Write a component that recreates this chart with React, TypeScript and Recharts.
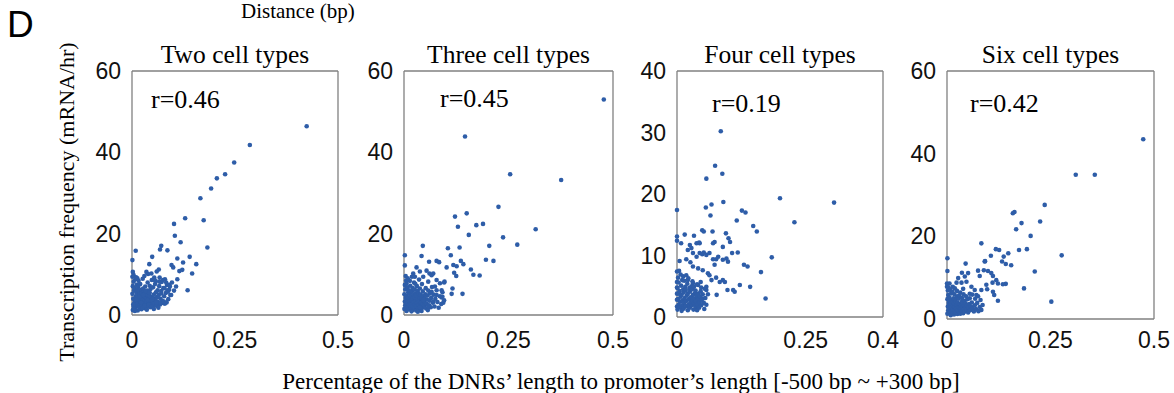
import React from "react"
import { ScatterChart, Scatter, XAxis, YAxis } from "recharts"

const SERIF = "'Liberation Serif', 'Times New Roman', serif"
const SANS = "'Liberation Sans', Arial, sans-serif"
const POINT = "#2e5da8"
const FRAME = "#808080"

// x = share of DNR length in the promoter, y = transcription frequency (mRNA/hr)
const twoCell: [number, number][] = [
  [0.424, 46.4], [0.286, 41.8], [0.248, 37.5], [0.226, 34.6], [0.206, 33.6], [0.192, 31.1],
  [0.166, 28.7], [0.129, 23.8], [0.174, 23.3], [0.102, 22.4], [0.104, 19.5], [0.118, 17.9],
  [0.183, 16.6], [0.071, 17.0], [0.068, 16.1], [0.086, 15.9], [0.009, 15.8], [0.001, 13.5],
  [0.049, 14.3], [0.110, 13.9], [0.124, 12.9], [0.140, 14.3], [0.156, 12.5], [0.096, 12.3],
  [0.100, 11.7], [0.115, 10.8], [0.122, 11.1], [0.146, 10.2], [0.042, 12.5], [0.065, 11.2],
  [0.060, 10.7], [0.002, 10.6], [0.001, 9.4], [0.035, 10.6], [0.039, 10.1], [0.110, 8.8],
  [0.107, 7.0], [0.135, 6.1], [0.077, 2.9], [0.051, 2.0], [0.013, 9.0],
  [0.002, 1.2], [0.004, 2.0], [0.006, 3.1], [0.003, 4.0], [0.001, 5.2], [0.005, 6.0],
  [0.002, 7.1], [0.004, 8.2], [0.008, 1.6], [0.010, 2.5], [0.007, 3.6], [0.009, 4.6],
  [0.011, 5.5], [0.006, 6.6], [0.012, 7.4], [0.008, 8.8], [0.014, 1.1], [0.015, 2.2],
  [0.013, 3.0], [0.016, 3.9], [0.014, 4.8], [0.017, 5.8], [0.015, 6.9], [0.018, 2.7],
  [0.019, 1.8], [0.020, 3.4], [0.021, 4.3], [0.019, 5.1], [0.022, 6.2], [0.020, 7.6],
  [0.023, 1.4], [0.024, 2.4], [0.025, 3.2], [0.026, 4.0], [0.024, 5.4], [0.027, 6.5],
  [0.028, 2.0], [0.029, 2.9], [0.030, 3.7], [0.031, 4.6], [0.029, 5.7], [0.032, 7.0],
  [0.033, 1.6], [0.034, 2.6], [0.035, 3.4], [0.036, 4.2], [0.034, 5.1], [0.037, 6.0],
  [0.038, 8.0], [0.039, 2.2], [0.040, 3.0], [0.041, 3.9], [0.042, 4.8], [0.040, 5.8],
  [0.043, 7.2], [0.044, 1.9], [0.045, 2.7], [0.046, 3.5], [0.047, 4.4], [0.045, 6.4],
  [0.048, 8.6], [0.050, 2.4], [0.051, 3.3], [0.052, 4.1], [0.053, 5.0], [0.051, 6.8],
  [0.054, 9.2], [0.055, 2.9], [0.057, 3.8], [0.058, 5.6], [0.056, 7.6], [0.060, 2.3],
  [0.061, 4.4], [0.062, 6.1], [0.063, 3.2], [0.065, 5.0], [0.066, 7.1], [0.068, 2.6],
  [0.069, 4.0], [0.071, 5.9], [0.072, 8.1], [0.074, 3.5], [0.076, 6.6], [0.078, 4.6],
  [0.080, 2.8], [0.082, 5.4], [0.085, 7.4], [0.088, 3.9], [0.090, 6.2], [0.093, 4.9],
  [0.097, 8.0], [0.004, 9.8], [0.010, 9.3], [0.016, 8.4], [0.026, 8.9], [0.030, 9.6],
  [0.003, 2.6], [0.007, 1.0], [0.011, 3.8], [0.013, 6.2], [0.018, 4.5], [0.022, 3.0],
  [0.025, 1.7], [0.027, 4.9], [0.031, 2.3], [0.033, 5.9], [0.036, 1.3], [0.038, 3.7],
  [0.041, 2.5], [0.043, 5.5], [0.047, 2.0], [0.049, 3.9], [0.053, 1.5], [0.059, 3.0],
  [0.064, 1.8], [0.070, 3.0], [0.058, 8.3], [0.067, 9.2], [0.080, 8.8], [0.086, 6.0],
  [0.092, 7.0], [0.102, 6.0], [0.047, 10.2], [0.055, 8.6], [0.067, 8.2], [0.075, 8.6],
  [0.083, 8.0], [0.091, 7.4], [0.079, 6.6], [0.087, 5.7], [0.071, 5.3], [0.063, 4.5],
  [0.095, 4.9], [0.077, 3.3], [0.084, 3.1],
]

const threeCell: [number, number][] = [
  [0.478, 53.0], [0.146, 43.9], [0.254, 34.6], [0.376, 33.2], [0.226, 26.6], [0.150, 25.0],
  [0.122, 24.2], [0.129, 21.7], [0.173, 22.1], [0.189, 22.4], [0.315, 21.1], [0.155, 19.7],
  [0.237, 19.1], [0.204, 17.0], [0.271, 17.3], [0.045, 17.0], [0.105, 16.4], [0.133, 16.6],
  [0.002, 14.7], [0.112, 14.7], [0.042, 14.5], [0.196, 13.6], [0.214, 13.3], [0.078, 13.3],
  [0.084, 13.0], [0.060, 13.1], [0.136, 13.3], [0.142, 12.5], [0.160, 11.2], [0.166, 9.9],
  [0.181, 9.7], [0.120, 10.4], [0.125, 9.6], [0.002, 12.2], [0.030, 11.7], [0.102, 11.7],
  [0.118, 12.3], [0.126, 12.0], [0.140, 5.2], [0.096, 8.0], [0.116, 6.5], [0.114, 5.2],
  [0.090, 4.3], [0.094, 3.0], [0.097, 8.2], [0.061, 10.2],
  [0.001, 1.5], [0.003, 2.4], [0.002, 3.3], [0.004, 4.2], [0.001, 5.1], [0.003, 6.3],
  [0.002, 7.4], [0.005, 8.5], [0.006, 1.0], [0.008, 1.9], [0.007, 2.9], [0.009, 3.8],
  [0.006, 4.7], [0.010, 5.6], [0.008, 6.8], [0.011, 1.4], [0.012, 2.5], [0.013, 3.4],
  [0.011, 4.3], [0.014, 5.2], [0.012, 6.1], [0.015, 7.2], [0.016, 1.8], [0.017, 2.8],
  [0.018, 3.7], [0.016, 4.6], [0.019, 5.7], [0.020, 1.2], [0.021, 2.2], [0.022, 3.1],
  [0.020, 4.0], [0.023, 4.9], [0.021, 6.6], [0.024, 8.0], [0.025, 1.7], [0.026, 2.6],
  [0.027, 3.5], [0.025, 4.4], [0.028, 5.3], [0.026, 6.2], [0.029, 1.1], [0.030, 2.1],
  [0.031, 3.0], [0.032, 3.9], [0.030, 4.8], [0.033, 5.9], [0.031, 7.1], [0.034, 1.6],
  [0.035, 2.5], [0.036, 3.4], [0.037, 4.3], [0.035, 5.2], [0.038, 6.5], [0.039, 1.3],
  [0.040, 2.2], [0.041, 3.1], [0.042, 4.1], [0.040, 5.0], [0.043, 7.6], [0.044, 1.8],
  [0.045, 2.7], [0.046, 3.6], [0.047, 4.6], [0.045, 5.8], [0.048, 2.3], [0.049, 3.2],
  [0.050, 4.0], [0.051, 5.1], [0.052, 6.6], [0.053, 1.6], [0.054, 2.8], [0.055, 3.8],
  [0.056, 4.8], [0.058, 6.0], [0.060, 2.4], [0.061, 3.5], [0.062, 5.3], [0.064, 1.9],
  [0.065, 4.2], [0.067, 6.9], [0.069, 3.0], [0.071, 5.0], [0.073, 2.1], [0.075, 4.0],
  [0.078, 6.1], [0.080, 3.2], [0.083, 1.8], [0.086, 4.6], [0.089, 2.7], [0.092, 5.6],
  [0.096, 3.6], [0.004, 9.6], [0.009, 9.0], [0.014, 8.4], [0.019, 9.4], [0.027, 7.7],
  [0.036, 8.7], [0.018, 0.9], [0.033, 0.8], [0.042, 1.0], [0.057, 1.2],
  [0.054, 10.9], [0.070, 10.2], [0.066, 9.8], [0.038, 10.7], [0.046, 9.4], [0.022, 10.2],
  [0.026, 9.4], [0.006, 7.8], [0.058, 8.2], [0.078, 8.6], [0.086, 7.8], [0.074, 7.0],
  [0.090, 6.1], [0.066, 5.7], [0.078, 4.9], [0.092, 4.5], [0.046, 3.7], [0.070, 3.3],
  [0.058, 2.2], [0.038, 1.9],
]

const fourCell: [number, number][] = [
  [0.085, 30.2], [0.074, 24.6], [0.088, 23.3], [0.057, 22.5], [0.200, 19.3], [0.305, 18.6],
  [0.090, 18.7], [0.067, 18.3], [0.056, 17.8], [0.065, 16.5], [0.126, 17.3], [0.133, 17.0],
  [0.116, 15.7], [0.228, 15.4], [0.000, 17.4], [0.148, 14.8], [0.155, 13.9], [0.049, 14.1],
  [0.052, 13.9], [0.069, 13.9], [0.095, 13.6], [0.100, 12.8], [0.103, 12.2], [0.015, 13.4],
  [0.000, 13.1], [0.000, 12.4], [0.184, 9.7], [0.163, 7.3], [0.172, 3.0], [0.142, 4.9],
  [0.122, 5.2], [0.130, 8.5], [0.137, 8.2], [0.107, 10.4], [0.118, 10.5], [0.098, 4.4],
  [0.109, 4.4], [0.112, 4.1], [0.077, 3.6], [0.033, 13.2],
  [0.008, 12.0], [0.021, 10.9], [0.028, 11.2], [0.038, 12.0], [0.044, 12.0], [0.070, 12.0],
  [0.073, 12.2], [0.089, 11.4], [0.025, 11.7], [0.043, 12.1],
  [0.005, 9.1], [0.018, 9.4], [0.026, 8.9], [0.031, 10.4], [0.038, 9.8], [0.044, 10.4],
  [0.049, 10.2], [0.052, 10.5], [0.057, 10.1], [0.063, 10.4], [0.070, 9.4], [0.076, 9.4],
  [0.080, 9.8], [0.073, 8.5], [0.089, 9.3], [0.096, 9.5], [0.099, 9.0], [0.031, 8.2],
  [0.041, 7.9], [0.050, 7.6], [0.060, 7.1], [0.063, 6.8], [0.067, 6.0], [0.076, 6.4],
  [0.083, 5.7], [0.089, 6.0], [0.093, 5.7], [0.057, 4.9], [0.000, 7.4], [0.004, 7.5],
  [0.012, 6.6], [0.018, 6.8], [0.021, 6.0], [0.031, 5.5], [0.041, 5.2], [0.047, 4.8],
  [0.057, 4.4], [0.060, 3.7], [0.050, 3.0], [0.038, 2.8], [0.031, 2.2], [0.041, 2.0],
  [0.038, 1.4], [0.021, 1.7], [0.012, 1.4], [0.000, 1.7], [0.000, 2.8], [0.000, 3.8],
  [0.000, 4.8], [0.000, 5.7],
  [0.001, 1.2], [0.003, 2.0], [0.002, 2.9], [0.004, 3.8], [0.001, 4.7], [0.003, 5.6],
  [0.005, 1.6], [0.006, 2.5], [0.007, 3.3], [0.005, 4.2], [0.008, 5.1], [0.009, 1.0],
  [0.010, 1.9], [0.011, 2.7], [0.009, 3.6], [0.012, 4.5], [0.010, 6.0], [0.013, 1.4],
  [0.014, 2.3], [0.015, 3.1], [0.013, 4.0], [0.016, 4.9], [0.017, 1.8], [0.018, 2.6],
  [0.019, 3.5], [0.017, 4.4], [0.020, 5.4], [0.021, 1.1], [0.022, 2.0], [0.023, 2.9],
  [0.021, 3.8], [0.024, 4.7], [0.025, 1.5], [0.026, 2.4], [0.027, 3.2], [0.025, 4.1],
  [0.028, 5.0], [0.029, 1.9], [0.030, 2.7], [0.031, 3.6], [0.029, 4.5], [0.032, 1.2],
  [0.033, 2.2], [0.034, 3.0], [0.035, 3.9], [0.033, 4.9], [0.036, 1.7], [0.037, 2.5],
  [0.038, 3.4], [0.036, 4.3], [0.039, 1.1], [0.040, 2.0], [0.041, 2.9], [0.042, 3.8],
  [0.043, 1.5], [0.044, 2.4], [0.045, 3.3], [0.046, 4.2], [0.047, 1.9], [0.048, 2.8],
  [0.050, 3.7], [0.052, 2.3], [0.053, 1.3], [0.055, 3.1], [0.057, 2.0], [0.002, 6.4],
  [0.007, 6.9], [0.014, 5.9], [0.022, 6.3], [0.030, 5.8], [0.039, 5.3], [0.046, 5.7],
  [0.054, 4.6],
]

const sixCell: [number, number][] = [
  [0.474, 43.5], [0.311, 34.9], [0.357, 34.9], [0.236, 27.6], [0.159, 25.6], [0.163, 25.9],
  [0.180, 23.2], [0.225, 23.6], [0.167, 21.7], [0.202, 20.1], [0.083, 18.3], [0.118, 16.9],
  [0.126, 16.7], [0.174, 16.7], [0.193, 16.9], [0.277, 15.4], [0.148, 15.9], [0.106, 15.3],
  [0.092, 14.0], [0.045, 13.4], [0.001, 14.7], [0.001, 11.6], [0.212, 11.5], [0.186, 7.4],
  [0.123, 4.4], [0.252, 4.2],
  [0.091, 13.9], [0.133, 13.9], [0.137, 15.1], [0.142, 13.3], [0.155, 13.0], [0.036, 11.2],
  [0.043, 10.3], [0.051, 11.1], [0.075, 11.7], [0.079, 10.4], [0.089, 11.8], [0.099, 11.6],
  [0.107, 11.1], [0.111, 10.4], [0.110, 8.8], [0.095, 8.3], [0.097, 7.2], [0.083, 7.0],
  [0.111, 6.6], [0.114, 5.8], [0.123, 8.6], [0.135, 8.4], [0.142, 8.5], [0.119, 9.4],
  [0.023, 8.8], [0.014, 7.8], [0.027, 9.9], [0.006, 8.6], [0.000, 8.6], [0.000, 7.8],
  [0.035, 8.8], [0.047, 9.0], [0.059, 7.8], [0.067, 7.0], [0.071, 5.8], [0.055, 6.1],
  [0.039, 7.3],
  [0.001, 1.3], [0.003, 2.1], [0.002, 3.0], [0.004, 3.9], [0.001, 4.8], [0.003, 5.8],
  [0.002, 6.9], [0.006, 1.7], [0.007, 2.6], [0.005, 3.4], [0.008, 4.3], [0.006, 5.2],
  [0.009, 0.9], [0.010, 1.9], [0.011, 2.8], [0.009, 3.7], [0.012, 4.6], [0.010, 6.2],
  [0.013, 1.4], [0.014, 2.3], [0.015, 3.2], [0.013, 4.1], [0.016, 5.0], [0.017, 1.1],
  [0.018, 2.0], [0.019, 2.9], [0.017, 3.8], [0.020, 4.7], [0.018, 6.0], [0.021, 1.6],
  [0.022, 2.5], [0.023, 3.4], [0.021, 4.3], [0.024, 5.4], [0.025, 1.2], [0.026, 2.1],
  [0.027, 3.0], [0.025, 3.9], [0.028, 4.9], [0.029, 1.8], [0.030, 2.7], [0.031, 3.6],
  [0.029, 5.7], [0.032, 1.3], [0.033, 2.3], [0.034, 3.2], [0.035, 4.1], [0.036, 1.9],
  [0.037, 2.8], [0.038, 3.7], [0.036, 5.1], [0.039, 1.4], [0.040, 2.4], [0.041, 3.3],
  [0.042, 4.4], [0.043, 1.8], [0.044, 2.9], [0.045, 3.8], [0.047, 2.2], [0.048, 3.3],
  [0.049, 4.8], [0.051, 1.6], [0.052, 2.7], [0.054, 3.6], [0.056, 2.1], [0.058, 3.0],
  [0.060, 4.0], [0.062, 2.5], [0.065, 1.8], [0.067, 3.3], [0.070, 2.4], [0.073, 3.9],
  [0.076, 1.9], [0.079, 2.9], [0.083, 2.2], [0.086, 3.4], [0.004, 7.6], [0.008, 7.1],
  [0.013, 6.6], [0.019, 7.4], [0.024, 6.8], [0.032, 6.4], [0.040, 6.0], [0.046, 5.5],
  [0.055, 5.0], [0.061, 5.9], [0.068, 4.9], [0.075, 5.5], [0.081, 4.6],
]

// minor tick positions and the subset that gets a number
const xTicksHalf = [0, 0.05, 0.1, 0.15, 0.2, 0.25, 0.3, 0.35, 0.4, 0.45, 0.5]
const xTicksFour = [0, 0.025, 0.05, 0.075, 0.1, 0.125, 0.15, 0.175, 0.2, 0.225, 0.25, 0.275, 0.3, 0.325, 0.35, 0.375, 0.4]
const yTicksBy5 = [0, 5, 10, 15, 20, 25, 30, 35, 40, 45, 50, 55, 60]
const yTicksBy4 = [0, 4, 8, 12, 16, 20, 24, 28, 32, 36, 40, 44, 48, 52, 56, 60]
const yTicksFour = [0, 2.5, 5, 7.5, 10, 12.5, 15, 17.5, 20, 22.5, 25, 27.5, 30, 32.5, 35, 37.5, 40]
const xLabelsHalf = [0, 0.25, 0.5]
const xLabelsFour = [0, 0.25, 0.4]
const yLabels60 = [0, 20, 40, 60]
const yLabels40 = [0, 10, 20, 30, 40]

const titles = ["Two cell types", "Three cell types", "Four cell types", "Six cell types"]
const rValues = ["r=0.46", "r=0.45", "r=0.19", "r=0.42"]

type PanelProps = {
  points: [number, number][]
  left: number
  top: number
  width: number
  height: number
  xMax: number
  yMax: number
  xTicks: number[]
  xLabels: number[]
  yTicks: number[]
  yLabels: number[]
}

const LABEL_TOP = 332
// room around each plot box for the tick numbers
const PAD_L = 50
const PAD_T = 16
const PAD_R = 26
const PAD_B = 45

const Dot = (p: any) => <circle cx={p.cx} cy={p.cy} r={2.3} fill={POINT} />

function Panel({ points, left, top, width, height, xMax, yMax, xTicks, xLabels, yTicks, yLabels }: PanelProps) {
  const data = points.map(([x, y]) => ({ x, y }))
  const tickFont = { fontSize: 23, fill: "#111", fontFamily: SANS }
  const minor = { stroke: FRAME, strokeWidth: 1 }
  const frame = { stroke: FRAME, strokeWidth: 1.3 }
  return (
    <div style={{ position: "absolute", left: left - PAD_L, top: top - PAD_T }}>
      <ScatterChart
        width={width + PAD_L + PAD_R} height={height + PAD_T + PAD_B}
        margin={{ top: PAD_T, right: PAD_R, bottom: 0, left: 0 }}
      >
        <XAxis
          xAxisId="b" type="number" dataKey="x" domain={[0, xMax]} ticks={xLabels} interval={0}
          tickLine={false} tickSize={0} tickMargin={LABEL_TOP - (top + height)} height={PAD_B}
          axisLine={frame} tick={tickFont} tickFormatter={(v) => String(v)}
        />
        <XAxis xAxisId="bm" type="number" domain={[0, xMax]} ticks={xTicks} interval={0} mirror
          tick={false} tickSize={3} tickLine={minor} axisLine={false} />
        <XAxis xAxisId="t" orientation="top" type="number" domain={[0, xMax]} ticks={xTicks} interval={0} mirror
          tick={false} tickSize={3} tickLine={minor} axisLine={frame} />
        <YAxis
          yAxisId="l" type="number" dataKey="y" domain={[0, yMax]} ticks={yLabels} interval={0}
          tickLine={false} tickSize={0} tickMargin={11} width={PAD_L}
          axisLine={frame} tick={tickFont}
        />
        <YAxis yAxisId="lm" type="number" domain={[0, yMax]} ticks={yTicks} interval={0} mirror
          tick={false} tickSize={3} tickLine={minor} axisLine={false} />
        <YAxis yAxisId="r" orientation="right" type="number" domain={[0, yMax]} ticks={yTicks} interval={0} mirror
          tick={false} tickSize={3} tickLine={minor} axisLine={frame} />
        <Scatter xAxisId="b" yAxisId="l" data={data} shape={Dot} isAnimationActive={false} />
      </ScatterChart>
    </div>
  )
}

const panels = [
  { points: twoCell, left: 132, top: 71, width: 206, height: 244, xMax: 0.5, yMax: 60, xTicks: xTicksHalf, xLabels: xLabelsHalf, yTicks: yTicksBy5, yLabels: yLabels60, rx: 151, ry: 108 },
  { points: threeCell, left: 404, top: 71, width: 209, height: 244, xMax: 0.5, yMax: 60, xTicks: xTicksHalf, xLabels: xLabelsHalf, yTicks: yTicksBy5, yLabels: yLabels60, rx: 440, ry: 107 },
  { points: fourCell, left: 677, top: 71, width: 206, height: 246, xMax: 0.4, yMax: 40, xTicks: xTicksFour, xLabels: xLabelsFour, yTicks: yTicksFour, yLabels: yLabels40, rx: 712, ry: 112 },
  { points: sixCell, left: 947, top: 71, width: 207, height: 248, xMax: 0.5, yMax: 60, xTicks: xTicksHalf, xLabels: xLabelsHalf, yTicks: yTicksBy4, yLabels: yLabels60, rx: 970, ry: 112 },
]

export default function App() {
  return (
    <div style={{ position: "absolute", left: 0, top: 0, width: 1174, height: 393, background: "#fff", overflow: "hidden" }}>
      {panels.map((p, i) => (
        <Panel key={i} {...p} />
      ))}
      <svg width={1174} height={393} style={{ position: "absolute", left: 0, top: 0, pointerEvents: "none" }}>
        <text x={7} y={37} fontFamily={SANS} fontSize={37} fill="#000">D</text>
        <text x={241} y={18} fontFamily={SERIF} fontSize={21} fill="#000">Distance (bp)</text>
        {panels.map((p, i) => (
          <g key={i}>
            <text x={p.left + p.width / 2} y={63} textAnchor="middle" fontFamily={SERIF} fontSize={25.5} fill="#000">
              {titles[i]}
            </text>
            <text x={p.rx} y={p.ry} fontFamily={SERIF} fontSize={26} fill="#000">{rValues[i]}</text>
          </g>
        ))}
        <text
          transform="translate(66,202) rotate(-90)" textAnchor="middle" dy="0.35em"
          fontFamily={SERIF} fontSize={22} fill="#000"
        >
          Transcription frequency (mRNA/hr)
        </text>
        <text x={621} y={389} textAnchor="middle" fontFamily={SERIF} fontSize={23} fill="#000">
          Percentage of the DNRs’ length to promoter’s length [-500 bp ~ +300 bp]
        </text>
      </svg>
    </div>
  )
}
